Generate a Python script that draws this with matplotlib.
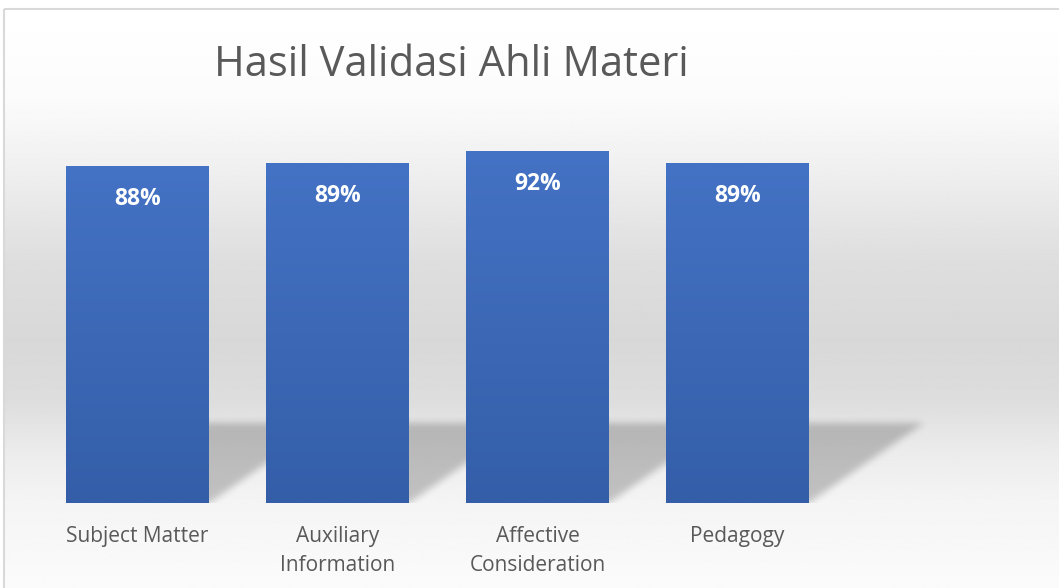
import numpy as np
import matplotlib
matplotlib.use("Agg")
import matplotlib.pyplot as plt
from matplotlib.patches import Rectangle

# chart data
categories = ["Subject Matter", "Auxiliary\nInformation", "Affective\nConsideration", "Pedagogy"]
scores = [88, 89, 92, 89]
score_labels = ["88%", "89%", "92%", "89%"]
title = "Hasil Validasi Ahli Materi"

W, H = 1059, 588
FONT = ["Open Sans", "DejaVu Sans"]
TEXT_GREY = "#595959"

fig = plt.figure(figsize=(W / 100, H / 100), dpi=100)
fig.patch.set_facecolor("white")

# background panel: vertical grey gradient inside a thin frame
bg = fig.add_axes([0, 0, 1, 1], zorder=-10)
bg.set_xlim(0, W)
bg.set_ylim(H, 0)
bg.axis("off")
ys = np.linspace(9, H, 400)
stops_y = [9, 100, 160, 260, 340, 400, 450, 500, 588]
stops_v = [255, 251, 241, 222, 216, 221, 235, 244, 251]
shade = np.interp(ys, stops_y, stops_v) / 255
bg.imshow(np.repeat(shade[:, None], 2, axis=1), cmap="gray", vmin=0, vmax=1,
          extent=[4, W, H, 9], aspect="auto", interpolation="bilinear")
bg.add_patch(Rectangle((4, 9), W + 10, H + 10, fill=False, edgecolor="#d9d9d9", lw=1.5))
bg.set_xlim(0, W)
bg.set_ylim(H, 0)

# main plot
ax = fig.add_axes([37.5 / W, (H - 503.5) / H, 1000 / W, 382 / H])
ax.patch.set_alpha(0)
x = np.arange(len(categories))
bars = ax.bar(x, scores, width=0.715, color="none", zorder=3)
ax.set_xlim(-0.5, 4.5)
ax.set_ylim(0, 100)

# soft skewed shadow behind the bars
sh_h, sh_dx = 21.0, 0.575
gx = np.linspace(-0.5, 4.5, 1000)
gy = np.linspace(0, 30, 115)
GX, GY = np.meshgrid(gx, gy)
mask = np.zeros_like(GX)
for b in bars:
    x0, w = b.get_x(), b.get_width()
    off = sh_dx * GY / sh_h
    mask[(GX >= x0 + off) & (GX <= x0 + w + off) & (GY <= sh_h)] = 1.0
k = np.exp(-0.5 * (np.arange(-10, 11) / 3.5) ** 2)
k /= k.sum()
mask = np.apply_along_axis(lambda r: np.convolve(r, k, mode="same"), 1, mask)
mask = np.apply_along_axis(lambda c: np.convolve(c, k, mode="same"), 0, mask)
rgba = np.zeros(mask.shape + (4,))
rgba[..., 3] = mask * 0.21
ax.imshow(rgba, extent=[-0.5, 4.5, 0, 30], origin="lower", aspect="auto", zorder=1)

# gradient fill for each bar
top_c = np.array([68, 114, 196]) / 255
bot_c = np.array([52, 94, 168]) / 255
t = np.linspace(0, 1, 256)[:, None, None]
grad = (1 - t) * top_c + t * bot_c
for b in bars:
    x0, y0, w, h = b.get_x(), b.get_y(), b.get_width(), b.get_height()
    ax.imshow(grad, extent=[x0, x0 + w, y0, y0 + h], origin="upper", aspect="auto", zorder=3)

for b, lab in zip(bars, score_labels):
    ax.annotate(lab, (b.get_x() + b.get_width() / 2, b.get_height()), xytext=(0, -32),
                textcoords="offset pixels", ha="center", va="center", color="white",
                fontsize=16.5, fontweight="bold", family=FONT, zorder=5)

ax.set_xlim(-0.5, 4.5)
ax.set_ylim(0, 100)
ax.set_xticks(x, categories)
for lbl in ax.get_xticklabels():
    lbl.set_family(FONT)
    lbl.set_linespacing(1.5)
ax.tick_params(axis="x", length=0, pad=16, labelsize=15, labelcolor=TEXT_GREY)
ax.set_yticks([])
for s in ax.spines.values():
    s.set_visible(False)

fig.text(451 / W, 1 - 65 / H, title, ha="center", va="center", fontsize=30,
         color=TEXT_GREY, family=FONT)

fig.savefig("out.png", dpi=100)
